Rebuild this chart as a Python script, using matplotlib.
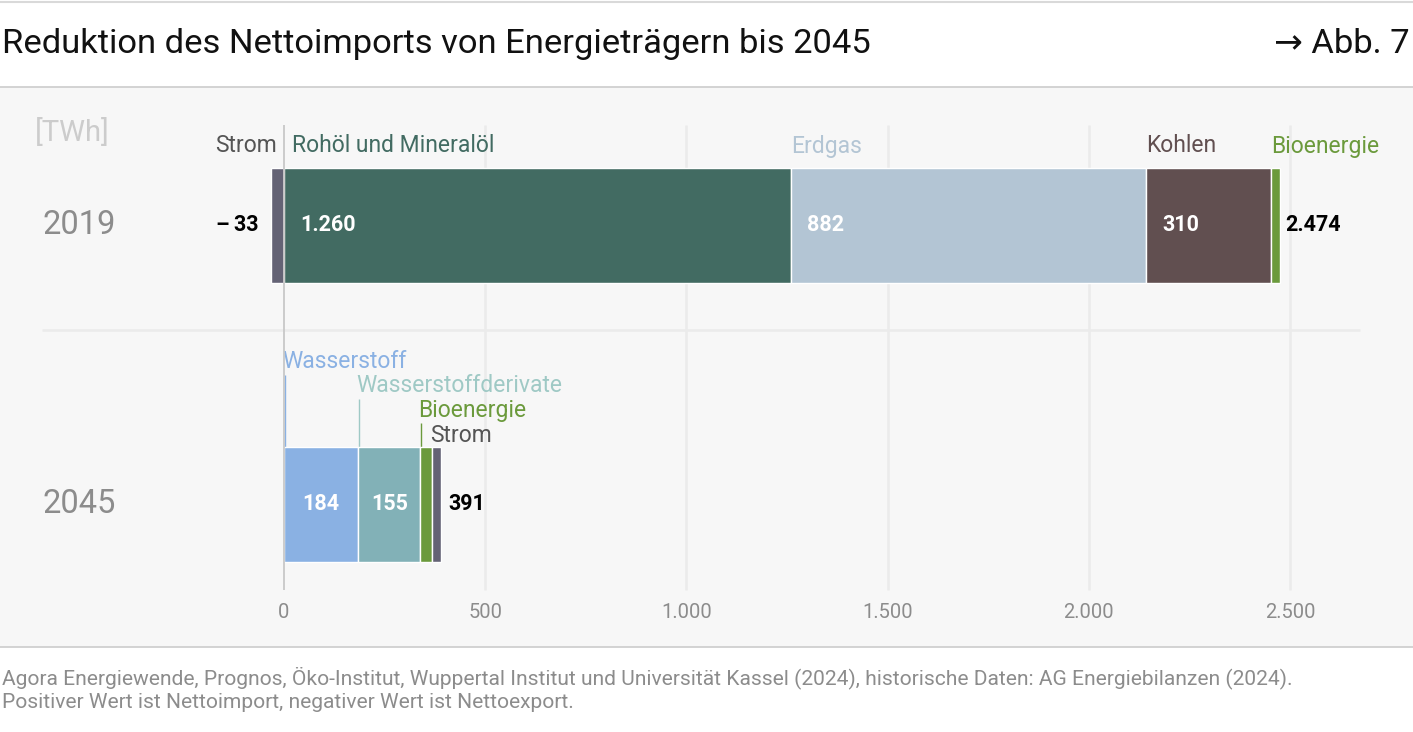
import matplotlib
matplotlib.use("Agg")
import matplotlib.pyplot as plt
from matplotlib.lines import Line2D

# data (TWh)
years = ["2019", "2045"]
carriers_2019 = ["Strom", "Rohöl und Mineralöl", "Erdgas", "Kohlen", "Bioenergie"]
values_2019 = [-33, 1260, 882, 310, 22]
carriers_2045 = ["Wasserstoff", "Wasserstoffderivate", "Bioenergie", "Strom"]
values_2045 = [184, 155, 30, 22]
ticks = [0, 500, 1000, 1500, 2000, 2500]

colors = {
    "Strom": "#646375",
    "Rohöl und Mineralöl": "#426b62",
    "Erdgas": "#b3c5d4",
    "Kohlen": "#614f50",
    "Bioenergie": "#6b9a3c",
    "Wasserstoff": "#8ab1e3",
    "Wasserstoffderivate": "#82b1b7",
}
label_colors = dict(colors)
label_colors["Strom"] = "#555555"
label_colors["Wasserstoffderivate"] = "#9fc9c5"

plt.rcParams['font.family'] = ['Roboto', 'DejaVu Sans']


def fmt(v):
    s = f"{abs(v):,}".replace(",", ".")
    return ("\u2013\u2009" + s) if v < 0 else s


W, H = 1413, 732
fig = plt.figure(figsize=(W / 100, H / 100), dpi=100)

# header
fig.add_artist(Line2D([0, 1], [1 - 2 / H, 1 - 2 / H], color="#d9d9d9", lw=1.5))
fig.text(2 / W, 1 - 44 / H, "Reduktion des Nettoimports von Energieträgern bis 2045",
         fontsize=24.8, va="center", ha="left", color="#111111")
fig.text(1 - 3 / W, 1 - 44 / H, "\u2192 Abb. 7", fontsize=24.8, va="center", ha="right",
         color="#111111")

# panel / axes
px = 0.4024  # pixels per TWh
zero_px = 284
top_px, bot_px = 87, 647
row_px = 279
c0_px = 225
ax = fig.add_axes([0, 1 - bot_px / H, 1, (bot_px - top_px) / H])
ax.set_facecolor("#f7f7f7")
ax.set_xlim(-zero_px / px, (W - zero_px) / px)
ax.set_ylim((bot_px - c0_px) / row_px, (top_px - c0_px) / row_px)
for s in ax.spines.values():
    s.set_visible(False)
ax.set_xticks([])
ax.set_yticks([])
fig.add_artist(Line2D([0, 1], [1 - top_px / H] * 2, color="#cccccc", lw=1.2))
fig.add_artist(Line2D([0, 1], [1 - bot_px / H] * 2, color="#cccccc", lw=1.2))


def ypx(p):
    return (p - c0_px) / row_px


# gridlines
for t in ticks[1:]:
    ax.vlines(t, ypx(125), ypx(590), color="#ebebeb", lw=1.8, zorder=0)
ax.hlines(ypx(330), (42 - zero_px) / px, (1360 - zero_px) / px, color="#ebebeb", lw=1.8, zorder=0)
for t in ticks:
    ax.text(t, ypx(612), fmt(t), ha="center", va="center", fontsize=14.5,
            color="#8c8c8c")

bar_h = 115 / row_px
fs_lab = 16.5
fs_val = 15.5

# 2019 bar
pos_left = 0
segs = []
for name, v in zip(carriers_2019, values_2019):
    if v < 0:
        left = v
    else:
        left = pos_left
        pos_left += v
    ax.barh(0, abs(v), left=left, height=bar_h, color=colors[name],
            edgecolor="white", lw=1, zorder=3)
    segs.append((name, v, left))

off = 1 / px  # one pixel in data units
lab_y = ypx(146)
for name, v, left in segs:
    if v < 0:
        ax.text(-7 * off, lab_y, name, ha="right", va="center", fontsize=fs_lab,
                color=label_colors[name])
        ax.text(left - 12 * off, 0, fmt(v), ha="right", va="center", fontsize=fs_val,
                fontweight="bold", color="black")
    else:
        dx = 8 if left == 0 else 0
        ax.text(left + dx * off, lab_y, name, ha="left", va="center", fontsize=fs_lab,
                color=label_colors[name])
        if v > 100:
            ax.text(left + 16 * off, 0, fmt(v), ha="left", va="center", fontsize=fs_val,
                    fontweight="bold", color="white", zorder=4)
ax.text(pos_left + 6 * off, 0, fmt(sum(v for v in values_2019 if v > 0)), ha="left",
        va="center", fontsize=fs_val, fontweight="bold", color="black")

# 2045 bar
left = 0
lab_rows = [362, 386, 410, 435]
for i, (name, v) in enumerate(zip(carriers_2045, values_2045)):
    ax.barh(1, v, left=left, height=bar_h, color=colors[name], edgecolor="white",
            lw=1, zorder=3)
    ly = ypx(lab_rows[i])
    ax.text(left - 2 * off, ly, name, ha="left", va="center", fontsize=fs_lab,
            color=label_colors[name])
    if i < 3:
        ax.vlines(left + 1 * off, ly + 13 / row_px, 1 - bar_h / 2, color=label_colors[name],
                  lw=1, zorder=2)
    if v > 100:
        ax.text(left + v / 2, 1, fmt(v), ha="center", va="center", fontsize=fs_val,
                fontweight="bold", color="white", zorder=4)
    left += v
ax.text(left + 7 * off, 1, fmt(sum(values_2045)), ha="left", va="center", fontsize=fs_val,
        fontweight="bold", color="black")

# zero line
ax.vlines(0, ypx(125), ypx(590), color="#c8c8c8", lw=1.3, zorder=5)

# row labels
for i, y in enumerate(years):
    ax.text((42 - zero_px) / px, i, y, ha="left", va="center", fontsize=23.5, color="#8c8c8c")
ax.text((35 - zero_px) / px, ypx(133), "[TWh]", ha="left", va="center", fontsize=21,
        color="#cccccc")

# footer
fig.text(2 / W, 1 - 678 / H,
         "Agora Energiewende, Prognos, Öko-Institut, Wuppertal Institut und Universität Kassel (2024), "
         "historische Daten: AG Energiebilanzen (2024).",
         fontsize=15.1, va="center", ha="left", color="#8c8c8c")
fig.text(2 / W, 1 - 703 / H, "Positiver Wert ist Nettoimport, negativer Wert ist Nettoexport.",
         fontsize=15.1, va="center", ha="left", color="#8c8c8c")

fig.savefig("out.png", dpi=100)
